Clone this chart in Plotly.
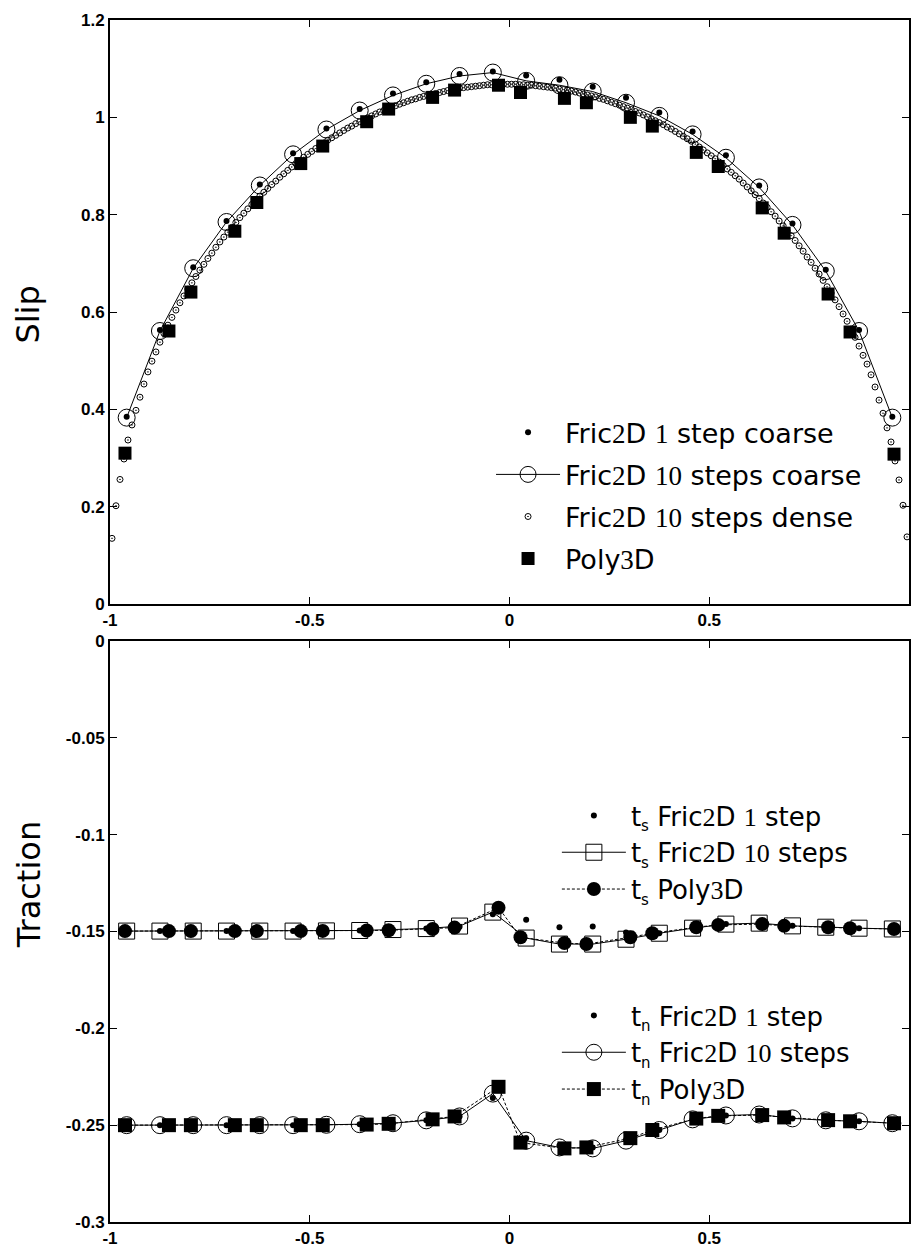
import plotly.graph_objects as go

# ---------------- data ----------------
COARSE_X = [-0.9583, -0.875, -0.7917, -0.7083, -0.625, -0.5417, -0.4583, -0.375,
            -0.2917, -0.2083, -0.125, -0.0417, 0.0417, 0.125, 0.2083, 0.2917,
            0.375, 0.4583, 0.5417, 0.625, 0.7083, 0.7917, 0.875, 0.9583]
SLIP_1STEP = [0.385, 0.563, 0.692, 0.787, 0.862, 0.926, 0.977, 1.017, 1.049, 1.072,
              1.089, 1.094, 1.086, 1.077, 1.063, 1.040, 1.010, 0.971, 0.922, 0.860,
              0.782, 0.687, 0.563, 0.385]
SLIP_10STEP = [0.383, 0.561, 0.690, 0.785, 0.860, 0.924, 0.975, 1.014, 1.045, 1.069,
               1.085, 1.092, 1.075, 1.066, 1.053, 1.030, 1.003, 0.965, 0.917, 0.856,
               0.779, 0.684, 0.561, 0.383]

DENSE_X = [round(-0.995 + 0.01 * i, 3) for i in range(200)]
SLIP_DENSE = [
    0.135, 0.202, 0.256, 0.298, 0.337, 0.368, 0.398, 0.425, 0.452, 0.477,
    0.499, 0.518, 0.538, 0.556, 0.573, 0.589, 0.604, 0.619, 0.633, 0.647,
    0.660, 0.673, 0.686, 0.698, 0.710, 0.721, 0.733, 0.744, 0.754, 0.764,
    0.774, 0.784, 0.794, 0.803, 0.812, 0.821, 0.830, 0.838, 0.846, 0.854,
    0.862, 0.869, 0.877, 0.884, 0.891, 0.898, 0.905, 0.911, 0.918, 0.924,
    0.930, 0.936, 0.942, 0.947, 0.953, 0.958, 0.963, 0.968, 0.973, 0.978,
    0.982, 0.987, 0.991, 0.995, 0.999, 1.003, 1.007, 1.011, 1.014, 1.018,
    1.021, 1.024, 1.027, 1.030, 1.033, 1.036, 1.038, 1.041, 1.043, 1.045,
    1.047, 1.049, 1.051, 1.053, 1.055, 1.057, 1.058, 1.060, 1.061, 1.062,
    1.063, 1.064, 1.065, 1.066, 1.067, 1.067, 1.068, 1.068, 1.068, 1.068,
    1.068, 1.068, 1.067, 1.067, 1.066, 1.066, 1.065, 1.064, 1.063, 1.062,
    1.061, 1.060, 1.058, 1.057, 1.056, 1.054, 1.052, 1.050, 1.048, 1.046,
    1.044, 1.042, 1.039, 1.037, 1.034, 1.031, 1.028, 1.025, 1.022, 1.019,
    1.016, 1.012, 1.009, 1.005, 1.001, 0.997, 0.993, 0.989, 0.985, 0.980,
    0.976, 0.971, 0.966, 0.961, 0.956, 0.951, 0.945, 0.939, 0.933, 0.927,
    0.921, 0.915, 0.908, 0.901, 0.894, 0.887, 0.880, 0.873, 0.865, 0.857,
    0.849, 0.841, 0.833, 0.824, 0.815, 0.806, 0.797, 0.787, 0.777, 0.767,
    0.757, 0.747, 0.736, 0.725, 0.713, 0.702, 0.690, 0.678, 0.665, 0.652,
    0.639, 0.625, 0.611, 0.596, 0.581, 0.565, 0.548, 0.530, 0.511, 0.493,
    0.471, 0.446, 0.419, 0.392, 0.362, 0.333, 0.294, 0.255, 0.203, 0.138]

POLY_X = [-0.9625, -0.8525, -0.7975, -0.6875, -0.6325, -0.5225, -0.4675, -0.3575,
          -0.3025, -0.1925, -0.1375, -0.0275, 0.0275, 0.1375, 0.1925, 0.3025,
          0.3575, 0.4675, 0.5225, 0.6325, 0.6875, 0.7975, 0.8525, 0.9625]
SLIP_POLY = [0.310, 0.561, 0.641, 0.766, 0.825, 0.905, 0.941, 0.991, 1.017, 1.041,
             1.056, 1.066, 1.051, 1.039, 1.030, 1.000, 0.982, 0.928, 0.899, 0.814,
             0.762, 0.637, 0.559, 0.308]

TS_1STEP = [-0.1498, -0.1498, -0.1498, -0.1498, -0.1498, -0.1498, -0.1497, -0.1495,
            -0.1492, -0.1485, -0.1475, -0.1411, -0.1440, -0.1478, -0.1474, -0.1505,
            -0.1509, -0.1483, -0.1462, -0.1457, -0.1471, -0.1478, -0.1483, -0.1487]
TS_10STEP = [-0.1498, -0.1498, -0.1498, -0.1498, -0.1498, -0.1498, -0.1497, -0.1495,
             -0.1490, -0.1485, -0.1472, -0.1400, -0.1534, -0.1565, -0.1565, -0.1540,
             -0.1509, -0.1483, -0.1462, -0.1457, -0.1471, -0.1478, -0.1483, -0.1487]
TS_POLY = [-0.1498, -0.1498, -0.1498, -0.1498, -0.1498, -0.1498, -0.1497, -0.1495,
           -0.1494, -0.1487, -0.1480, -0.1377, -0.1530, -0.1560, -0.1565, -0.1530,
           -0.1509, -0.1478, -0.1466, -0.1462, -0.1471, -0.1478, -0.1483, -0.1487]

TN_1STEP = [-0.2500, -0.2500, -0.2500, -0.2500, -0.2500, -0.2500, -0.2498, -0.2495,
            -0.2490, -0.2475, -0.2455, -0.2360, -0.2567, -0.2605, -0.2615, -0.2575,
            -0.2525, -0.2470, -0.2450, -0.2445, -0.2465, -0.2475, -0.2480, -0.2490]
TN_10STEP = [-0.2500, -0.2500, -0.2500, -0.2500, -0.2500, -0.2500, -0.2498, -0.2495,
             -0.2490, -0.2475, -0.2455, -0.2337, -0.2580, -0.2615, -0.2620, -0.2580,
             -0.2525, -0.2470, -0.2450, -0.2445, -0.2465, -0.2475, -0.2480, -0.2490]
TN_POLY = [-0.2500, -0.2500, -0.2500, -0.2500, -0.2500, -0.2500, -0.2500, -0.2497,
           -0.2493, -0.2470, -0.2455, -0.2302, -0.2590, -0.2620, -0.2615, -0.2567,
           -0.2525, -0.2466, -0.2452, -0.2448, -0.2460, -0.2474, -0.2480, -0.2490]

X_TICKS = [-1, -0.5, 0, 0.5, 1]
X_TICKTEXT = ["-1", "-0.5", "0", "0.5", "1"]
SLIP_TICKS = [0, 0.2, 0.4, 0.6, 0.8, 1, 1.2]
SLIP_TICKTEXT = ["0", "0.2", "0.4", "0.6", "0.8", "1", "1.2"]
TR_TICKS = [0, -0.05, -0.1, -0.15, -0.2, -0.25, -0.3]
TR_TICKTEXT = ["0", "-0.05", "-0.1", "-0.15", "-0.2", "-0.25", "-0.3"]

# ---------------- helpers ----------------
def serif(s):
    return "<span style='font-family:Liberation Serif'>" + s + "</span>"

FRIC = "Fric" + serif("2") + "D"
POLY = "Poly" + serif("3") + "D"
BLACK = "black"

fig = go.Figure()

# ---------------- top panel: slip ----------------
fig.add_trace(go.Scatter(
    x=DENSE_X, y=SLIP_DENSE, mode="markers", xaxis="x", yaxis="y",
    name=FRIC + " " + serif("10") + " steps dense", legend="legend",
    legendgroup="g3", legendrank=3,
    marker=dict(symbol="circle-open-dot", size=6, color=BLACK, line=dict(width=1, color=BLACK))))
fig.add_trace(go.Scatter(
    x=COARSE_X, y=SLIP_10STEP, mode="lines+markers", xaxis="x", yaxis="y",
    name=FRIC + " " + serif("10") + " steps coarse", legend="legend",
    legendgroup="g2", legendrank=2,
    line=dict(color=BLACK, width=1),
    marker=dict(symbol="circle-open", size=17, color=BLACK, line=dict(width=1, color=BLACK))))
fig.add_trace(go.Scatter(
    x=POLY_X, y=SLIP_POLY, mode="markers", xaxis="x", yaxis="y",
    name=POLY, legend="legend", legendgroup="g4", legendrank=4,
    marker=dict(symbol="square", size=13, color=BLACK)))
fig.add_trace(go.Scatter(
    x=COARSE_X, y=SLIP_1STEP, mode="markers", xaxis="x", yaxis="y",
    name=FRIC + " " + serif("1") + " step coarse", legend="legend",
    legendgroup="g1", legendrank=1,
    marker=dict(symbol="circle", size=6, color=BLACK)))

# ---------------- bottom panel: traction ----------------
TS = "t<sub><span style='font-size:15px'>s</span></sub> "
TN = "t<sub><span style='font-size:15px'>n</span></sub> "
fig.add_trace(go.Scatter(
    x=COARSE_X, y=TS_10STEP, mode="lines+markers", xaxis="x2", yaxis="y2",
    name=TS + FRIC + " " + serif("10") + " steps", legend="legend2",
    legendgroup="s2", legendrank=2,
    line=dict(color=BLACK, width=1),
    marker=dict(symbol="square-open", size=16, color=BLACK, line=dict(width=1, color=BLACK))))
fig.add_trace(go.Scatter(
    x=POLY_X, y=TS_POLY, mode="lines+markers", xaxis="x2", yaxis="y2",
    name=TS + POLY, legend="legend2", legendgroup="s3", legendrank=3,
    line=dict(color=BLACK, width=1, dash="3px,2px"),
    marker=dict(symbol="circle", size=14, color=BLACK)))
fig.add_trace(go.Scatter(
    x=COARSE_X, y=TS_1STEP, mode="markers", xaxis="x2", yaxis="y2",
    name=TS + FRIC + " " + serif("1") + " step", legend="legend2",
    legendgroup="s1", legendrank=1,
    marker=dict(symbol="circle", size=6, color=BLACK)))

fig.add_trace(go.Scatter(
    x=COARSE_X, y=TN_10STEP, mode="lines+markers", xaxis="x2", yaxis="y2",
    name=TN + FRIC + " " + serif("10") + " steps", legend="legend3",
    legendgroup="n2", legendrank=2,
    line=dict(color=BLACK, width=1),
    marker=dict(symbol="circle-open", size=17, color=BLACK, line=dict(width=1, color=BLACK))))
fig.add_trace(go.Scatter(
    x=POLY_X, y=TN_POLY, mode="lines+markers", xaxis="x2", yaxis="y2",
    name=TN + POLY, legend="legend3", legendgroup="n3", legendrank=3,
    line=dict(color=BLACK, width=1, dash="3px,2px"),
    marker=dict(symbol="square", size=14, color=BLACK)))
fig.add_trace(go.Scatter(
    x=COARSE_X, y=TN_1STEP, mode="markers", xaxis="x2", yaxis="y2",
    name=TN + FRIC + " " + serif("1") + " step", legend="legend3",
    legendgroup="n1", legendrank=1,
    marker=dict(symbol="circle", size=6, color=BLACK)))

# ---------------- layout ----------------
tickfont = dict(family="Liberation Sans, Arial, sans-serif", size=17, color=BLACK, weight="bold")
axis_common = dict(showline=True, linecolor=BLACK, linewidth=2, mirror="ticks",
                   ticks="inside", ticklen=7, tickwidth=1, tickcolor=BLACK,
                   showgrid=False, zeroline=False, tickfont=tickfont)
legend_common = dict(bgcolor="rgba(0,0,0,0)", borderwidth=0,
                     xanchor="left", yanchor="top", itemsizing="trace",
                     traceorder="grouped", itemwidth=64)

fig.update_layout(
    width=913, height=1251,
    margin=dict(l=110, r=2, t=20, b=29),
    paper_bgcolor="white", plot_bgcolor="white",
    showlegend=True,
    xaxis=dict(domain=[0, 1], range=[-1, 1], anchor="y",
               tickvals=X_TICKS, ticktext=X_TICKTEXT, **axis_common),
    yaxis=dict(domain=[0.5141, 1], range=[0, 1.2], anchor="x",
               tickvals=SLIP_TICKS, ticktext=SLIP_TICKTEXT, **axis_common),
    xaxis2=dict(domain=[0, 1], range=[-1, 1], anchor="y2",
                tickvals=X_TICKS, ticktext=X_TICKTEXT, **axis_common),
    yaxis2=dict(domain=[0, 0.4834], range=[-0.3, 0], anchor="x2",
                tickvals=TR_TICKS, ticktext=TR_TICKTEXT, **axis_common),
    legend=dict(x=0.4769, y=0.677, tracegroupgap=4,
                font=dict(family="DejaVu Sans", size=27, color=BLACK), **legend_common),
    legend2=dict(x=0.5593, y=0.3577, tracegroupgap=0,
                 font=dict(family="DejaVu Sans", size=26, color=BLACK), **legend_common),
    legend3=dict(x=0.5593, y=0.1913, tracegroupgap=0,
                 font=dict(family="DejaVu Sans", size=26, color=BLACK), **legend_common),
    annotations=[
        dict(text="Slip", xref="paper", yref="paper", x=-0.102, y=0.7545,
             xanchor="center", yanchor="middle", textangle=-90, showarrow=False,
             font=dict(family="DejaVu Sans", size=32, color=BLACK)),
        dict(text="Traction", xref="paper", yref="paper", x=-0.102, y=0.2805,
             xanchor="center", yanchor="middle", textangle=-90, showarrow=False,
             font=dict(family="DejaVu Sans", size=32, color=BLACK)),
    ],
)

fig.write_html("out.html")
